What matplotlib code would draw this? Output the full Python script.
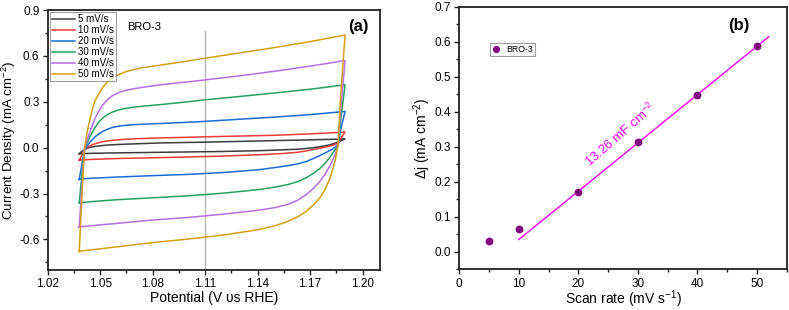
import numpy as np
import matplotlib
matplotlib.use('Agg')
import matplotlib.pyplot as plt
from matplotlib.ticker import MultipleLocator

plt.rcParams['font.family'] = ['Liberation Sans', 'DejaVu Sans']
plt.rcParams['mathtext.fontset'] = 'custom'
plt.rcParams['mathtext.rm'] = 'Liberation Sans'

# ---- panel (a): CV curves, forward and reverse sweeps ----
fwd_v = [1.038, 1.0395, 1.041, 1.0425, 1.044, 1.0455, 1.047, 1.049, 1.0515,
         1.054, 1.057, 1.061, 1.065, 1.070, 1.075, 1.085, 1.10, 1.11, 1.13,
         1.15, 1.17, 1.19]
rev_v = [1.19, 1.1875, 1.186, 1.1845, 1.183, 1.181, 1.1785, 1.1755, 1.172,
         1.168, 1.163, 1.157, 1.15, 1.14, 1.12, 1.10, 1.08, 1.06, 1.045, 1.038]

labels = ['5 mV/s', '10 mV/s', '20 mV/s', '30 mV/s', '40 mV/s', '50 mV/s']
colors = ['#3c3c3c', '#f03a3a', '#1a6bd8', '#27a060', '#b46ee6', '#d4a012']

fwd_5 = [-0.039, -0.025, -0.012, -0.004, 0.002, 0.005, 0.008, 0.011, 0.014,
         0.017, 0.019, 0.021, 0.023, 0.025, 0.027, 0.031, 0.034, 0.036, 0.041,
         0.046, 0.051, 0.057]
fwd_10 = [-0.083, -0.05, -0.015, 0.0, 0.012, 0.019, 0.025, 0.032, 0.039,
          0.044, 0.048, 0.052, 0.055, 0.058, 0.060, 0.064, 0.068, 0.071, 0.076,
          0.081, 0.090, 0.102]
fwd_20 = [-0.21, -0.11, -0.015, 0.01, 0.035, 0.052, 0.07, 0.088, 0.106,
          0.12, 0.132, 0.141, 0.147, 0.151, 0.154, 0.158, 0.166, 0.172, 0.186,
          0.200, 0.216, 0.237]
fwd_30 = [-0.36, -0.18, -0.01, 0.03, 0.07, 0.10, 0.13, 0.165, 0.195,
          0.215, 0.233, 0.248, 0.258, 0.266, 0.272, 0.282, 0.30, 0.313, 0.335,
          0.358, 0.382, 0.411]
fwd_40 = [-0.52, -0.26, -0.01, 0.05, 0.10, 0.145, 0.19, 0.235, 0.28,
          0.312, 0.34, 0.362, 0.376, 0.387, 0.396, 0.412, 0.43, 0.443, 0.47,
          0.50, 0.533, 0.570]
fwd_50 = [-0.68, -0.33, -0.01, 0.10, 0.18, 0.25, 0.305, 0.35, 0.395,
          0.428, 0.455, 0.48, 0.498, 0.513, 0.524, 0.541, 0.566, 0.585, 0.62,
          0.655, 0.693, 0.737]

rev_5 = [0.057, 0.045, 0.035, 0.03, 0.025, 0.018, 0.012, 0.006, 0.0, -0.005,
         -0.01, -0.013, -0.016, -0.020, -0.025, -0.028, -0.031, -0.034,
         -0.037, -0.040]
rev_10 = [0.102, 0.06, 0.03, 0.022, 0.016, 0.01, 0.003, -0.004, -0.012,
          -0.021, -0.03, -0.036, -0.041, -0.047, -0.055, -0.061, -0.066,
          -0.071, -0.077, -0.081]
rev_20 = [0.237, 0.12, 0.02, 0.005, -0.008, -0.02, -0.035, -0.052, -0.07,
          -0.09, -0.106, -0.118, -0.13, -0.145, -0.163, -0.175, -0.183,
          -0.192, -0.200, -0.205]
rev_30 = [0.411, 0.18, 0.01, -0.01, -0.035, -0.068, -0.103, -0.137, -0.167,
          -0.195, -0.222, -0.242, -0.258, -0.275, -0.298, -0.315, -0.328,
          -0.340, -0.353, -0.360]
rev_40 = [0.570, 0.25, 0.02, -0.04, -0.08, -0.125, -0.175, -0.222, -0.265,
          -0.305, -0.343, -0.372, -0.392, -0.41, -0.435, -0.457, -0.473,
          -0.495, -0.510, -0.518]
rev_50 = [0.737, 0.35, 0.02, -0.075, -0.14, -0.21, -0.275, -0.33, -0.372,
          -0.415, -0.452, -0.484, -0.51, -0.537, -0.572, -0.598, -0.621,
          -0.648, -0.668, -0.677]

fwd_all = [fwd_5, fwd_10, fwd_20, fwd_30, fwd_40, fwd_50]
rev_all = [rev_5, rev_10, rev_20, rev_30, rev_40, rev_50]

# ---- panel (b): delta j vs scan rate ----
scan_rate = [5, 10, 20, 30, 40, 50]
delta_j = [0.031, 0.064, 0.172, 0.313, 0.448, 0.587]
fit_range = [10, 52]

fig = plt.figure(figsize=(7.89, 3.10), dpi=100)
ax1 = fig.add_axes([0.0605, 0.129, 0.4212, 0.8387])
ax2 = fig.add_axes([0.5821, 0.1313, 0.415, 0.847])

for ax in (ax1, ax2):
    for s in ax.spines.values():
        s.set_linewidth(1.3)
        s.set_color('#222222')
    ax.tick_params(which='both', direction='out', top=False, right=False,
                   labelsize=8.5, width=1.0, color='#222222', pad=2.5)
    ax.tick_params(which='major', length=3.5)
    ax.tick_params(which='minor', length=2)

# (a)
ax1.axvline(1.11, ymin=0, ymax=(0.76 + 0.8) / 1.7, color='#b5b5b5', lw=1.0)
for lab, col, fw, rv in zip(labels, colors, fwd_all, rev_all):
    ax1.plot(fwd_v + rev_v, fw + rv, color=col, lw=1.1, label=lab)
ax1.set_xlim(1.02, 1.21)
ax1.set_ylim(-0.8, 0.9)
ax1.set_xticks([1.02, 1.05, 1.08, 1.11, 1.14, 1.17, 1.20])
ax1.set_xticklabels(['1.02', '1.05', '1.08', '1.11', '1.14', '1.17', '1.20'])
ax1.xaxis.set_minor_locator(MultipleLocator(0.015))
ax1.set_yticks([-0.6, -0.3, 0.0, 0.3, 0.6, 0.9])
ax1.set_yticklabels(['-0.6', '-0.3', '0.0', '0.3', '0.6', '0.9'])
ax1.yaxis.set_minor_locator(MultipleLocator(0.15))
ax1.set_xlabel('Potential (V υs RHE)', fontsize=10)
ax1.set_ylabel('Current Density (mA cm$^{-2}$)', fontsize=9.6)
ax1.yaxis.set_label_coords(-0.09, 0.5)
ax1.xaxis.set_label_coords(0.5, -0.082)
leg = ax1.legend(loc='upper left', fontsize=7, frameon=True, fancybox=False,
                 edgecolor='#888888', handlelength=2.4, handletextpad=0.25,
                 labelspacing=0.1, borderpad=0.2, borderaxespad=0.25)
leg.get_frame().set_linewidth(0.8)
ax1.text(0.24, 0.935, 'BRO-3', transform=ax1.transAxes, fontsize=8,
         ha='left', va='center')
ax1.text(0.965, 0.935, '(a)', transform=ax1.transAxes, fontsize=12,
         fontweight='bold', ha='right', va='center')

# (b)
coef = np.polyfit(scan_rate[2:], delta_j[2:], 1)
xf = np.array(fit_range)
ax2.plot(xf, np.polyval(coef, xf), color='#ff00ff', lw=1.0)
ax2.plot(scan_rate, delta_j, 'o', color='#800080', ms=4.6, label='BRO-3')
ax2.set_xlim(0, 55)
ax2.set_ylim(-0.05, 0.7)
ax2.xaxis.set_major_locator(MultipleLocator(10))
ax2.xaxis.set_minor_locator(MultipleLocator(5))
ax2.set_yticks([0.0, 0.1, 0.2, 0.3, 0.4, 0.5, 0.6, 0.7])
ax2.set_yticklabels(['0.0', '0.1', '0.2', '0.3', '0.4', '0.5', '0.6', '0.7'])
ax2.yaxis.set_minor_locator(MultipleLocator(0.05))
ax2.set_xlabel('Scan rate (mV s$^{-1}$)', fontsize=10)
ax2.set_ylabel('Δj (mA cm$^{-2}$)', fontsize=10, labelpad=1)
ax2.xaxis.set_label_coords(0.5, -0.072)
leg2 = ax2.legend(loc='upper left', bbox_to_anchor=(0.08, 0.88), fontsize=6.3,
                  frameon=True, fancybox=False, edgecolor='#888888',
                  handlelength=1.0, handletextpad=0.6, borderpad=0.25,
                  markerscale=0.9)
leg2.get_frame().set_linewidth(0.8)
ax2.text(27.0, 0.335, '13.26 mF cm$^{-2}$', color='#ff00ff', fontsize=9.5,
         rotation=41, ha='center', va='center')
ax2.text(0.854, 0.93, '(b)', transform=ax2.transAxes, fontsize=12,
         fontweight='bold', ha='center', va='center')

fig.savefig('out.png', dpi=100)
